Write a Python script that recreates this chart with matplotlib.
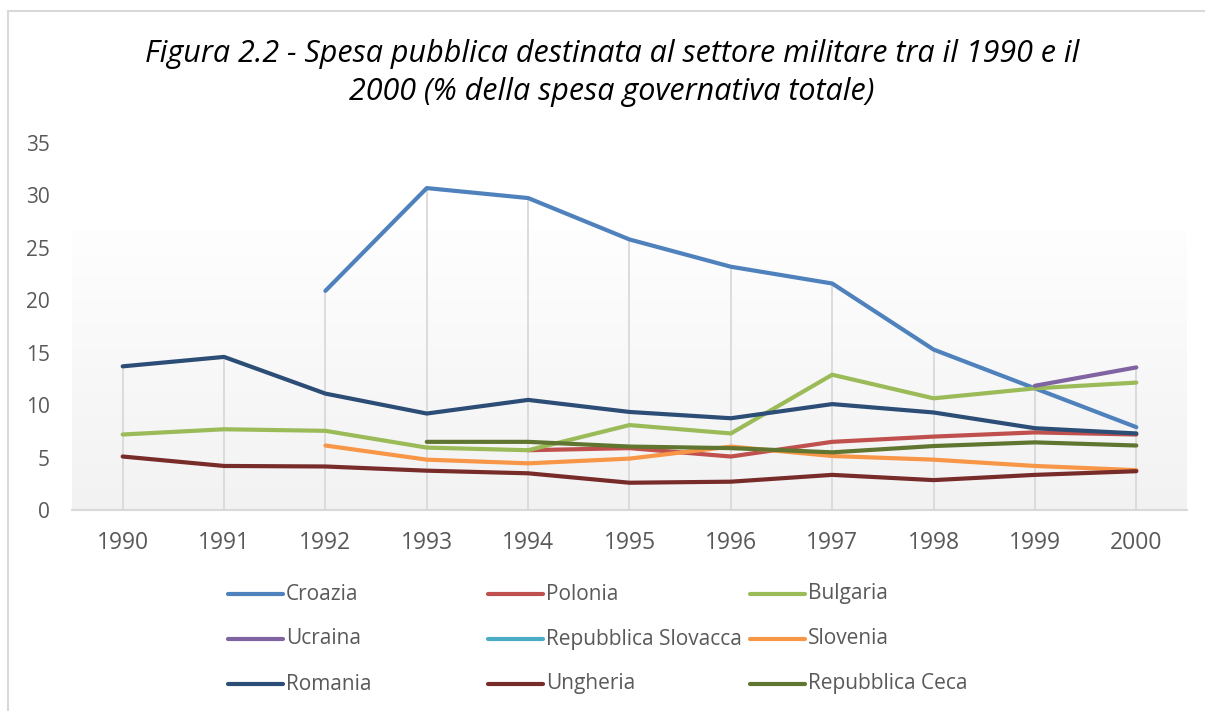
import numpy as np
import matplotlib
matplotlib.use("Agg")
import matplotlib.pyplot as plt
from matplotlib.lines import Line2D
from matplotlib.patches import Rectangle

plt.rcParams['font.family'] = ['Open Sans', 'DejaVu Sans']

nan = np.nan
anni = [1990, 1991, 1992, 1993, 1994, 1995, 1996, 1997, 1998, 1999, 2000]

croazia   = [nan, nan, 20.9, 30.7, 29.75, 25.8, 23.2, 21.6, 15.3, 11.6, 7.9]
polonia   = [nan, nan, nan, nan, 5.7, 5.9, 5.1, 6.5, 7.0, 7.4, 7.2]
bulgaria  = [7.2, 7.7, 7.55, 5.95, 5.7, 8.1, 7.3, 12.9, 10.65, 11.6, 12.15]
ucraina   = [nan, nan, nan, nan, nan, nan, nan, nan, nan, 11.85, 13.6]
slovacca  = [nan] * 11
slovenia  = [nan, nan, 6.15, 4.8, 4.45, 4.9, 6.05, 5.15, 4.8, 4.2, 3.8]
romania   = [13.7, 14.6, 11.1, 9.2, 10.5, 9.35, 8.75, 10.1, 9.3, 7.8, 7.3]
ungheria  = [5.1, 4.2, 4.15, 3.75, 3.5, 2.6, 2.7, 3.35, 2.85, 3.35, 3.7]
ceca      = [nan, nan, nan, 6.5, 6.5, 6.05, 5.9, 5.5, 6.1, 6.45, 6.15]

nomi = ["Croazia", "Polonia", "Bulgaria", "Ucraina", "Repubblica Slovacca",
        "Slovenia", "Romania", "Ungheria", "Repubblica Ceca"]
serie = [croazia, polonia, bulgaria, ucraina, slovacca, slovenia, romania, ungheria, ceca]
colori = ["#4F81BD", "#C0504D", "#9BBB59", "#8064A2", "#4BACC6",
          "#F79646", "#2C4D75", "#772C2A", "#5F7530"]

fig = plt.figure(figsize=(12.05, 7.11), dpi=100)
ax = fig.add_axes([72 / 1205, 1 - 510 / 711, 1115 / 1205, 367 / 711])
ax.set_xlim(1989.5, 2000.5)
ax.set_ylim(0, 35)

# sfondo sfumato dell'area del grafico
grad = np.linspace(0, 1, 256).reshape(-1, 1)
ax.imshow(grad, extent=[1989.5, 2000.5, 0, 26.7], aspect='auto', origin='lower',
          cmap=matplotlib.colors.LinearSegmentedColormap.from_list("g", ["#f2f2f2", "#fefefe"]),
          zorder=0, interpolation='bilinear')

# linee di proiezione
dati = np.array(serie, dtype=float)
massimi = np.nanmax(dati, axis=0)
ax.vlines(anni, 0, massimi, color="#d9d9d9", lw=1.3, zorder=1)

for s, c in zip(serie, colori):
    ax.plot(anni, s, color=c, lw=3, solid_capstyle='round', solid_joinstyle='round', zorder=3)

for side in ['top', 'right', 'left']:
    ax.spines[side].set_visible(False)
ax.spines['bottom'].set_color("#d9d9d9")
ax.spines['bottom'].set_linewidth(1.5)
ax.spines['bottom'].set_zorder(2)

ax.set_xticks(anni)
ax.set_yticks(range(0, 36, 5))
ax.tick_params(axis='both', length=0, colors="#595959")
ax.tick_params(axis='x', pad=15, labelsize=16.5)
ax.tick_params(axis='y', pad=16, labelsize=15)

fig.text(612 / 1205, 1 - 54 / 711, "Figura 2.2 - Spesa pubblica destinata al settore militare tra il 1990 e il",
         ha='center', va='center', fontsize=22, style='italic', color="#000000")
fig.text(612 / 1205, 1 - 92 / 711, "2000 (% della spesa governativa totale)",
         ha='center', va='center', fontsize=22, style='italic', color="#000000")

# legenda a griglia 3x3
col_x = [228, 488, 750]
row_y = [594, 639, 684]
for i, (nome, c) in enumerate(zip(nomi, colori)):
    r, k = divmod(i, 3)
    x0 = col_x[k]
    y0 = 1 - row_y[r] / 711
    fig.add_artist(Line2D([x0 / 1205, (x0 + 55) / 1205], [y0, y0], color=c, lw=3,
                          solid_capstyle='round'))
    fig.text((x0 + 58) / 1205, y0, nome, ha='left', va='center', fontsize=15, color="#595959")

# bordo del grafico
fig.add_artist(Rectangle((8 / 1205, -0.1), 1.2, 1 - 11 / 711 + 0.1, fill=False,
                         edgecolor="#d9d9d9", lw=1.5, transform=fig.transFigure))

fig.savefig("out.png", dpi=100)
